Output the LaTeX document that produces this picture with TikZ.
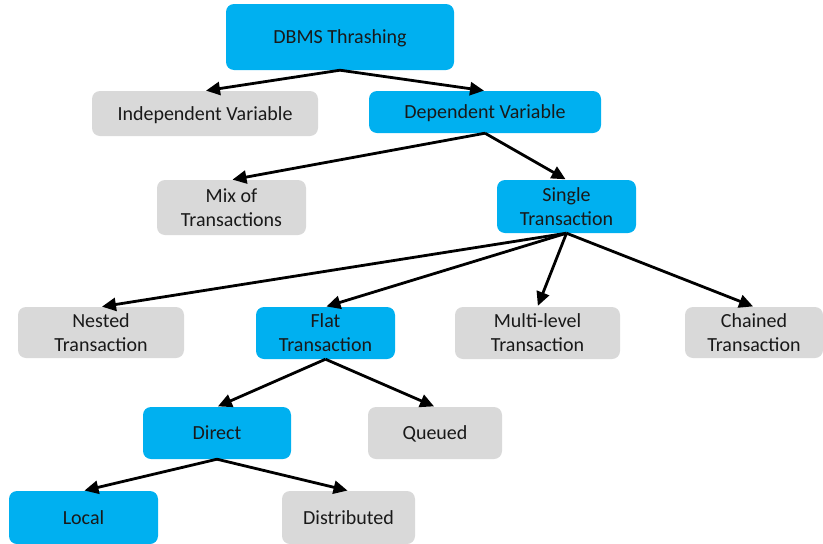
\documentclass[tikz,border=0pt]{standalone}
\usepackage{fontspec}
\setmainfont{Carlito}
\usetikzlibrary{arrows.meta}
\definecolor{boxblue}{HTML}{00B0F0}
\definecolor{boxgray}{HTML}{D9D9D9}
\tikzset{
  base/.style={rounded corners=8pt, inner sep=0pt, align=center, text depth=0pt, font=\fontsize{20}{24}\selectfont, text=black!90},
  bluebox/.style={base, fill=boxblue},
  graybox/.style={base, fill=boxgray},
  conn/.style={line width=2.8pt, -{Triangle[length=14pt,width=13pt]}, shorten >=1pt}
}
\begin{document}
\begin{tikzpicture}[x=1pt,y=-1pt]
\useasboundingbox (0,0) rectangle (823,544);
\node[bluebox, minimum width=228pt, minimum height=66pt] (top) at (340,37) {DBMS Thrashing};
\node[graybox, minimum width=226pt, minimum height=45pt] (indep) at (205,113.5) {Independent Variable};
\node[bluebox, minimum width=232pt, minimum height=42pt] (dep) at (485,112) {Dependent Variable};
\node[graybox, minimum width=149pt, minimum height=55pt] (mix) at (231.5,207.5) {Mix of\\Transactions};
\node[bluebox, minimum width=139pt, minimum height=53pt] (single) at (566.5,206.5) {Single\\Transaction};
\node[graybox, minimum width=166pt, minimum height=51pt] (nested) at (101,332.5) {Nested\\Transaction};
\node[bluebox, minimum width=139pt, minimum height=52pt] (flat) at (325.5,333) {Flat\\Transaction};
\node[graybox, minimum width=165pt, minimum height=52pt] (multi) at (537.5,333) {Multi-level\\Transaction};
\node[graybox, minimum width=138pt, minimum height=51pt] (chained) at (754,332.5) {Chained\\Transaction};
\node[bluebox, minimum width=148pt, minimum height=52pt] (direct) at (217,433) {Direct};
\node[graybox, minimum width=134pt, minimum height=52pt] (queued) at (435,433) {Queued};
\node[bluebox, minimum width=149pt, minimum height=53pt] (local) at (83.5,517.5) {Local};
\node[graybox, minimum width=133pt, minimum height=53pt] (dist) at (348.5,517.5) {Distributed};
\draw[conn] (top.south) -- (indep.north);
\draw[conn] (top.south) -- (dep.north);
\draw[conn] (dep.south) -- (mix.north);
\draw[conn] (dep.south) -- (single.north);
\draw[conn] (single.south) -- (nested.north);
\draw[conn] (single.south) -- (flat.north);
\draw[conn] (single.south) -- (multi.north);
\draw[conn] (single.south) -- (chained.north);
\draw[conn] (flat.south) -- (direct.north);
\draw[conn] (flat.south) -- (queued.north);
\draw[conn] (direct.south) -- (local.north);
\draw[conn] (direct.south) -- (dist.north);
\end{tikzpicture}
\end{document}
